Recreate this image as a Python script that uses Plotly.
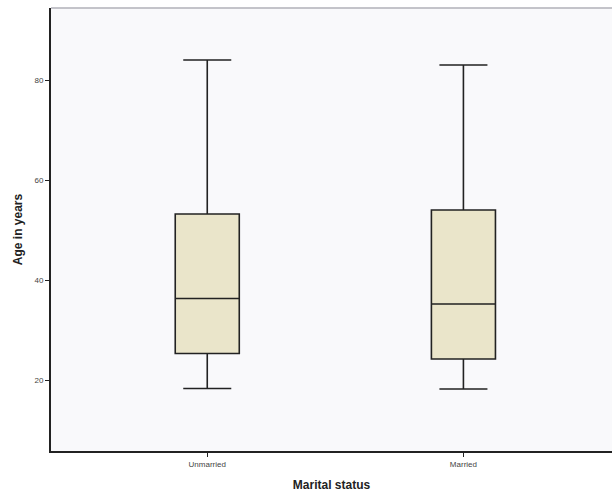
import plotly.graph_objects as go

# Age distribution by marital status (five-number summaries)
categories = ["Unmarried", "Married"]
lower_whisker = [18.3, 18.2]
q1_values = [25.3, 24.2]
medians = [36.3, 35.2]
q3_values = [53.2, 54.0]
upper_whisker = [84.0, 83.0]

y_ticks = [20, 40, 60, 80]

fig = go.Figure()
fig.add_trace(go.Box(
    x=categories,
    q1=q1_values,
    median=medians,
    q3=q3_values,
    lowerfence=lower_whisker,
    upperfence=upper_whisker,
    fillcolor="#EAE5CA",
    line=dict(color="#222222", width=1.6),
    width=0.25,
    whiskerwidth=0.75,
    boxpoints=False,
    showlegend=False,
    hoverinfo="skip",
))

fig.update_layout(
    width=612,
    height=498,
    margin=dict(l=51, r=0, t=8, b=47),
    paper_bgcolor="white",
    plot_bgcolor="#F9F9FB",
    font=dict(family="Liberation Sans, Arial, sans-serif", color="#333333"),
    xaxis=dict(
        range=[-0.61, 1.58],
        showgrid=False,
        zeroline=False,
        showline=True,
        linecolor="#222222",
        linewidth=2,
        ticks="outside",
        ticklen=4,
        tickcolor="#222222",
        tickfont=dict(size=8, color="#444444"),
        title=dict(text="<b>Marital status</b>", font=dict(size=12, color="#222222"), standoff=13),
    ),
    yaxis=dict(
        range=[5.8, 94.4],
        tickvals=y_ticks,
        showgrid=False,
        zeroline=False,
        showline=True,
        linecolor="#222222",
        linewidth=2,
        ticks="outside",
        ticklen=4,
        tickcolor="#222222",
        tickfont=dict(size=8, color="#444444"),
        title=dict(text="<b>Age in years</b>", font=dict(size=12, color="#222222"), standoff=9),
    ),
    shapes=[dict(
        type="line", xref="paper", yref="paper",
        x0=0, x1=1, y0=1, y1=1,
        line=dict(color="#B0B0B8", width=1.5),
    )],
)

fig.write_html("out.html")
